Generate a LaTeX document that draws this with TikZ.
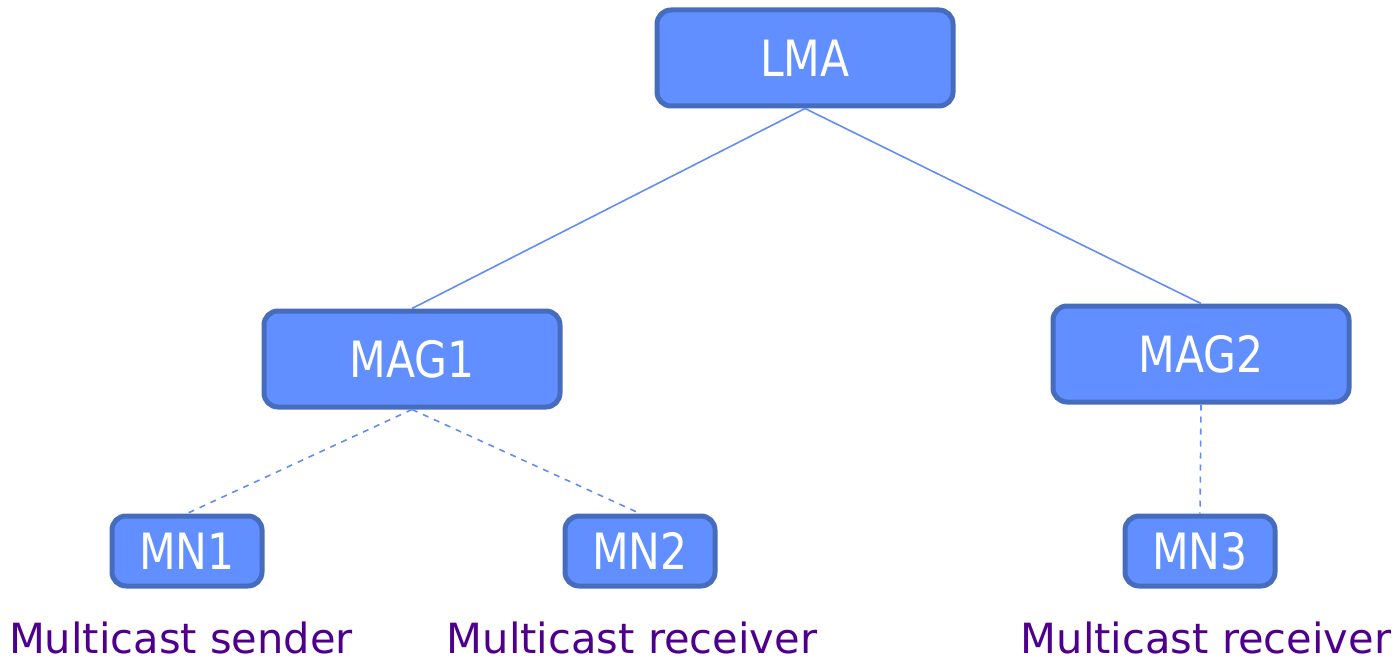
\documentclass[tikz,border=0pt]{standalone}
\usepackage{fontspec}
\setmainfont{DejaVu Sans}
\newfontfamily\boxfont[FakeStretch=0.85]{DejaVu Sans}
\usepackage{tikz}
\definecolor{boxfill}{RGB}{97, 143, 255}
\definecolor{boxline}{RGB}{70, 108, 190}
\definecolor{linkline}{RGB}{100, 140, 245}
\definecolor{roletext}{RGB}{78, 0, 140}
\tikzset{
  agent/.style={draw=boxline, fill=boxfill, line width=2.5pt, rounded corners=7pt,
    text=white, font=\boxfont\fontsize{25}{28}\selectfont, minimum width=148pt, minimum height=48pt},
  mobile/.style={agent, minimum width=75pt, minimum height=35pt},
  role/.style={text=roletext, font=\fontsize{20.8}{24}\selectfont},
  link/.style={linkline, line width=0.8pt}
}

\begin{document}
\begin{tikzpicture}[x=0.5pt, y=-0.5pt]
        \useasboundingbox (0,0) rectangle (1395,663);
        \node[agent] (lma) at (805,58) {LMA};
        \node[agent] (mag1) at (412,359) {MAG1};
        \node[agent] (mag2) at (1201,354) {MAG2};
        \node[mobile] (mn1) at (187,551) {MN1};
        \node[mobile] (mn2) at (640,551) {MN2};
        \node[mobile] (mn3) at (1200,551) {MN3};
        % links
        \draw[link] (lma.south) -- (mag1.north);
        \draw[link] (lma.south) -- (mag2.north);
        \draw[link, dashed] (mag1.south) -- (mn1.north);
        \draw[link, dashed] (mag1.south) -- (mn2.north);
        \draw[link, dashed] (mag2.south) -- (mn3.north);
        % roles
        \node[role] (r1) at (181,638) {Multicast sender};
        \node[role] (r2) at (632,638) {Multicast receiver};
        \node[role] (r3) at (1206,638) {Multicast receiver};
      \end{tikzpicture}
\end{document}
